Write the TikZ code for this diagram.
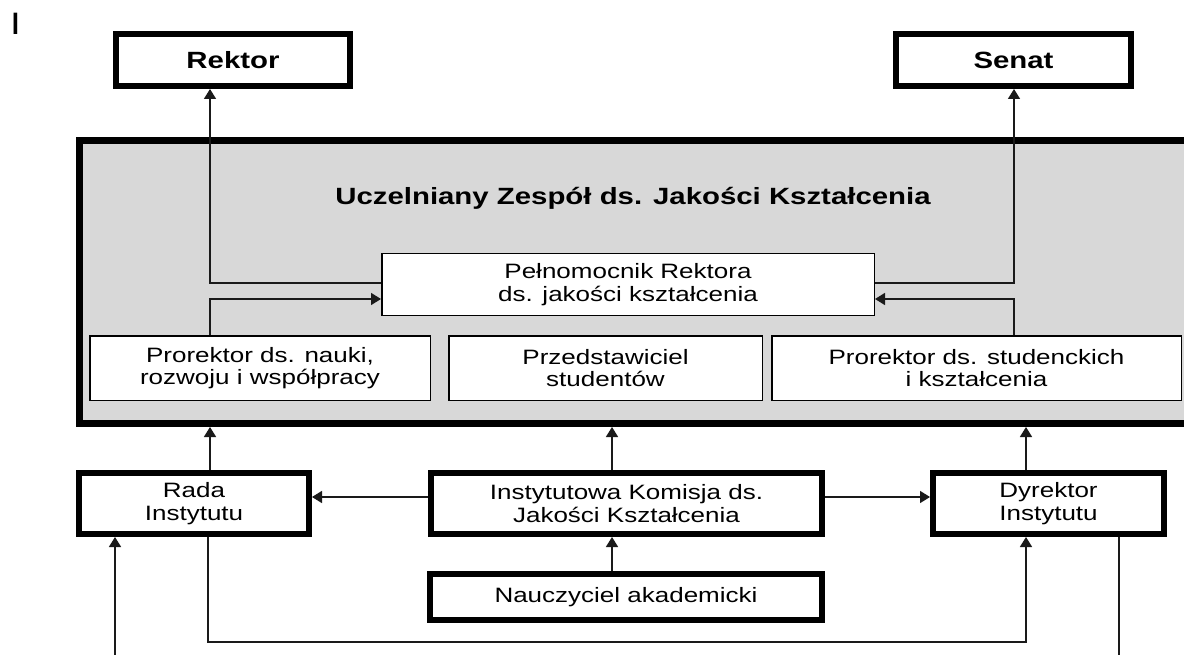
\documentclass[tikz,border=0pt]{standalone}
\usepackage{fontspec}
\setmainfont{Liberation Sans}[FakeStretch=1.25]
\usetikzlibrary{arrows.meta}
\definecolor{zgrey}{HTML}{D8D8D8}
\definecolor{lnc}{HTML}{1A1A1A}
\begin{document}
\begin{tikzpicture}[x=1pt,y=-1pt,
  txt/.style={font=\fontsize{20.8}{22.5}\selectfont},
  heavybox/.style={draw=black, line width=6pt, fill=white, align=center, inner sep=0pt, txt},
  lightbox/.style={draw=black, line width=1.5pt, fill=white, align=center, inner sep=0pt, txt},
  conn/.style={draw=lnc, line width=1.5pt},
  arr/.style={conn, -{Triangle[length=10pt,width=12pt]}},
  boldtxt/.style={font=\bfseries\fontsize{23.5}{25}\selectfont}
]
\useasboundingbox (0,0) rectangle (1184,655);
\clip (0,0) rectangle (1184,655);
\fill[white] (0,0) rectangle (1184,655);

\node (mark) at (15.5,24) {\fontsize{31}{32}\selectfont I};

% top boxes
\node[heavybox, boldtxt, minimum width=234pt, minimum height=52pt] (rektor) at (233,60) {Rektor};
\node[heavybox, boldtxt, minimum width=235pt, minimum height=52pt] (senat) at (1013.5,60) {Senat};

% big grey box
\node[draw=black, line width=7pt, fill=zgrey, minimum width=1140.5pt, minimum height=282.5pt, inner sep=0pt] (uz) at (649.75,282.25) {};
\node[boldtxt] (title) at (633,198) {Uczelniany Zespół ds. Jakości Kształcenia};

% boxes inside
\node[lightbox, minimum width=492.5pt, minimum height=61.5pt] (pel) at (628,284.5) {Pełnomocnik Rektora\\ds. jakości kształcenia};
\node[lightbox, minimum width=340.5pt, minimum height=64.5pt] (pn) at (260,368) {Prorektor ds. nauki,\\rozwoju i współpracy};
\node[lightbox, minimum width=313.5pt, minimum height=64.5pt] (prz) at (605.5,368) {Przedstawiciel\\studentów};
\node[lightbox, minimum width=409.5pt, minimum height=64.5pt] (ps) at (976.5,368) {Prorektor ds. studenckich\\i kształcenia};

% lower boxes
\node[heavybox, minimum width=230pt, minimum height=61pt] (rada) at (194,503.5) {Rada\\Instytutu};
\node[heavybox, minimum width=391pt, minimum height=61pt] (ikj) at (626.5,503.5) {Instytutowa Komisja ds.\\Jakości Kształcenia};
\node[heavybox, minimum width=231pt, minimum height=61pt] (dyr) at (1048.5,503.5) {Dyrektor\\Instytutu};
\node[heavybox, minimum width=392pt, minimum height=46pt] (na) at (626,597) {Nauczyciel akademicki};

% free ends at the bottom edge
\coordinate (lin) at (115,662);
\coordinate (rout) at (1119,662);

% connectors inside the big box
\draw[arr] (pel.west |- 0,283) -| (210,0 |- rektor.south);
\draw[arr] (210,0 |- pn.north) |- (pel.west |- 0,299);
\draw[arr] (pel.east |- 0,283) -| (1014,0 |- senat.south);
\draw[arr] (1014,0 |- ps.north) |- (pel.east |- 0,299);

% connectors from lower boxes to the big box
\draw[arr] (210,0 |- rada.north) -- (210,0 |- uz.south);
\draw[arr] (612,0 |- ikj.north) -- (612,0 |- uz.south);
\draw[arr] (1026,0 |- dyr.north) -- (1026,0 |- uz.south);

% horizontal connectors
\draw[arr] (ikj.west |- 0,497) -- (rada.east |- 0,497);
\draw[arr] (ikj.east |- 0,497) -- (dyr.west |- 0,497);
\draw[arr] (612,0 |- na.north) -- (612,0 |- ikj.south);

% bottom connectors
\draw[arr] (208,0 |- rada.south) |- (1026,642) -- (1026,0 |- dyr.south);
\draw[arr] (lin) -- (lin |- rada.south);
\draw[conn] (1119,0 |- dyr.south) -- (rout);
\end{tikzpicture}
\end{document}
